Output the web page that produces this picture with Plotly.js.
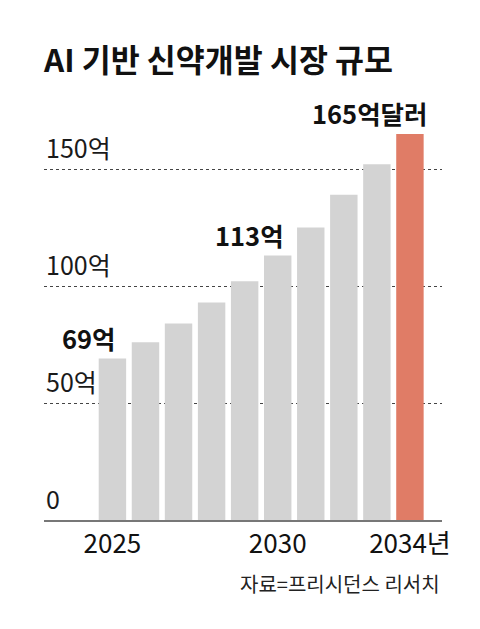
<!DOCTYPE html>
<html>
<head>
<meta charset="utf-8">
<script src="https://cdn.plot.ly/plotly-3.0.1.min.js"></script>
<style>html,body{margin:0;padding:0;background:#fff;}</style>
</head>
<body>
<div id="chart" style="width:480px;height:629px;"></div>
<script>
// Data (억 달러)
var years = [2025, 2026, 2027, 2028, 2029, 2030, 2031, 2032, 2033, 2034];
var values = [69, 76, 84, 93, 102, 113, 125, 139, 152, 165];
var xTickVals = [2025, 2030, 2034];
var xTickText = ["2025", "2030", "2034년"];
var yTickVals = [0, 50, 100, 150];
var yTickText = ["0", "50억", "100억", "150억"];
var labelYears = [2025, 2030, 2034];
var labelValues = [69, 113, 165];
var labelTexts = ["69억", "113억", "165억달러"];

var FONT = '"Liberation Sans Narrow", "Noto Sans CJK KR", sans-serif';
var GRAY = '#d3d3d3', ORANGE = '#e07c66';
var colors = values.map(function(v, i){ return i === values.length - 1 ? ORANGE : GRAY; });

var annotations = [];
yTickVals.forEach(function(v, i){
  annotations.push({
    xref: 'paper', yref: 'y', x: 0, y: v, xanchor: 'left', yanchor: 'bottom',
    yshift: 2, text: yTickText[i], showarrow: false,
    font: {family: FONT, size: 25, color: '#1a1a1a'}
  });
});
var labelShift = [6, 8, 20];
labelYears.forEach(function(yr, i){
  annotations.push({
    xref: 'x', yref: 'y', x: yr, y: labelValues[i], xanchor: 'right', yanchor: 'bottom',
    xshift: labelShift[i], yshift: 1, text: labelTexts[i], showarrow: false,
    font: {family: FONT, size: 25.5, color: '#111', weight: 700}
  });
});
annotations.push({
  xref: 'paper', yref: 'paper', x: 1, y: -0.15, xanchor: 'right', yanchor: 'middle',
  text: '자료=프리시던스 리서치', showarrow: false,
  font: {family: '"Noto Sans CJK KR", sans-serif', size: 20, color: '#222'}
});

var trace = {
  type: 'bar', x: years, y: values,
  marker: {color: colors, line: {width: 0}},
  hoverinfo: 'skip'
};

var layout = {
  width: 480, height: 629,
  margin: {l: 44, r: 38, t: 100, b: 109, pad: 0},
  paper_bgcolor: '#fff', plot_bgcolor: '#fff',
  bargap: 0.17,
  showlegend: false,
  title: {
    text: '<b>AI 기반 신약개발 시장 규모</b>',
    x: 0, xref: 'paper', xanchor: 'left',
    y: 1 - 61/629, yref: 'container', yanchor: 'middle',
    font: {family: '"Noto Sans CJK KR", sans-serif', size: 31.5, color: '#111'}
  },
  xaxis: {
    type: 'linear', range: [2022.93, 2034.97], fixedrange: true,
    tickvals: xTickVals, ticktext: xTickText,
    ticks: '', showgrid: false, zeroline: false,
    showline: true, linecolor: '#777', linewidth: 2,
    tickfont: {family: FONT, size: 26, color: '#111'},
    ticklabelstandoff: 0
  },
  yaxis: {
    range: [0, 179.5], fixedrange: true,
    tickvals: [50, 100, 150], showticklabels: false, ticks: '',
    showgrid: true, gridcolor: '#444', gridwidth: 1, griddash: '3px,3px',
    zeroline: false, showline: false
  },
  annotations: annotations
};

Plotly.newPlot('chart', [trace], layout, {displayModeBar: false, staticPlot: true});
</script>
</body>
</html>
